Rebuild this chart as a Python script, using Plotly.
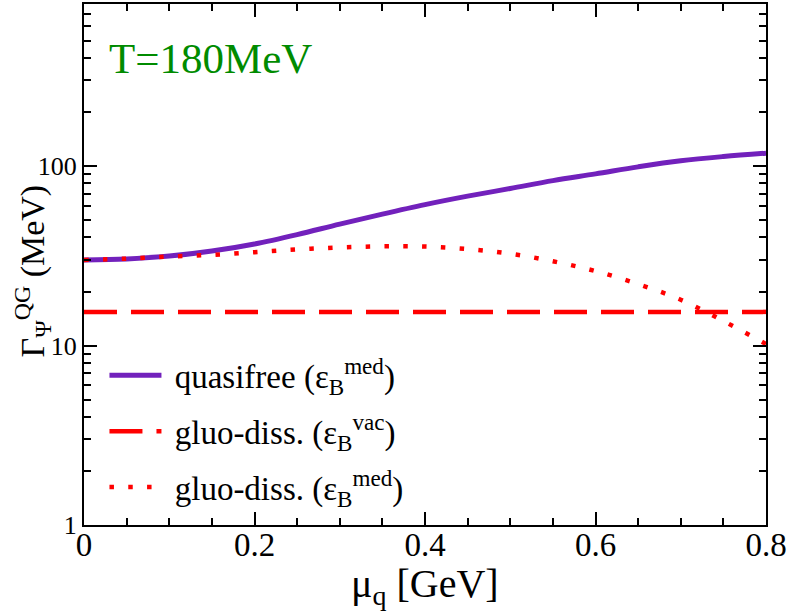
import math
import plotly.graph_objects as go

# ---- data ----
mu_q = [0.0, 0.05, 0.1, 0.15, 0.2, 0.25, 0.3, 0.35, 0.4, 0.45, 0.5, 0.55, 0.6, 0.65, 0.7, 0.75, 0.8]
gamma_quasifree_med = [30.0, 30.4, 31.5, 33.6, 36.8, 41.5, 47.5, 54.0, 61.0, 68.0, 75.0, 83.0, 90.5, 99.0, 107.0, 113.0, 118.0]
gamma_gluo_med = [30.0, 30.5, 31.3, 32.0, 33.1, 34.3, 35.2, 35.7, 35.6, 34.5, 32.5, 29.5, 26.0, 22.0, 18.0, 13.7, 10.2]
mu_q_vac = [0.0, 0.8]
gamma_gluo_vac = [15.4, 15.4]

x_ticks = [0, 0.2, 0.4, 0.6, 0.8]
x_ticktext = ["0", "0.2", "0.4", "0.6", "0.8"]
y_ticks = [1, 10, 100]
y_ticktext = ["1", "10", "100"]

names = ["\u00a0quasifree (ε<sub>B</sub><sup>med</sup>)",
         "\u00a0gluo-diss. (ε<sub>B</sub><sup>vac</sup>)",
         "\u00a0gluo-diss. (ε<sub>B</sub><sup>med</sup>)"]

INDIGO = "rgb(114,33,188)"
RED = "rgb(255,0,0)"
GREEN = "rgb(0,139,0)"
FONT = "Liberation Serif"

fig = go.Figure()
fig.add_trace(go.Scatter(x=mu_q, y=gamma_quasifree_med, mode="lines", name=names[0],
                         legendgroup="g1",
                         line=dict(color=INDIGO, width=5, shape="spline")))
fig.add_trace(go.Scatter(x=mu_q_vac, y=gamma_gluo_vac, mode="lines", name=names[1],
                         legendgroup="g2",
                         line=dict(color=RED, width=4.5, dash="33px,14px")))
fig.add_trace(go.Scatter(x=mu_q, y=gamma_gluo_med, mode="lines", name=names[2],
                         legendgroup="g3",
                         line=dict(color=RED, width=4.5, dash="4.5px,14.3px", shape="spline")))

fig.update_layout(
    width=789, height=616,
    margin=dict(l=84, r=22, t=2, b=91),
    paper_bgcolor="white", plot_bgcolor="white",
    font=dict(family=FONT, color="black"),
    showlegend=True,
    legend=dict(x=0.03, y=0.341, xanchor="left", yanchor="top",
                bgcolor="rgba(0,0,0,0)", borderwidth=0,
                font=dict(family=FONT, size=33, color="black"),
                traceorder="grouped", tracegroupgap=10, itemwidth=52),
    xaxis=dict(range=[0, 0.8], tickvals=x_ticks, ticktext=x_ticktext,
               ticks="inside", ticklen=13, tickwidth=2, tickcolor="black",
               showline=True, linewidth=2, linecolor="black", mirror="allticks",
               showgrid=False, zeroline=False, ticklabelstandoff=-11,
               tickfont=dict(family=FONT, size=33, color="black"),
               minor=dict(dtick=0.05, tick0=0, ticks="inside", ticklen=7, tickwidth=1.5,
                          tickcolor="black", showgrid=False)),
    yaxis=dict(type="log", range=[0, math.log10(800)], tickvals=y_ticks, ticktext=y_ticktext,
               ticks="inside", ticklen=13, tickwidth=2, tickcolor="black",
               showline=True, linewidth=2, linecolor="black", mirror="allticks",
               showgrid=False, zeroline=False,
               tickfont=dict(family=FONT, size=26, color="black"),
               minor=dict(dtick="D1", ticks="inside", ticklen=7, tickwidth=1.5,
                          tickcolor="black", showgrid=False)),
    annotations=[
        dict(text="T=180MeV", x=0.0337, y=0.895, xref="paper", yref="paper",
             xanchor="left", yanchor="middle", showarrow=False,
             font=dict(family=FONT, size=43, color=GREEN)),
        dict(text="μ<sub>q</sub> [GeV]", x=0.5, y=-0.117, xref="paper", yref="paper",
             xanchor="center", yanchor="middle", showarrow=False, borderpad=0,
             font=dict(family=FONT, size=40, color="black")),
        dict(text="Γ<sub>Ψ</sub><sup>QG</sup> (MeV)", x=-0.076, y=0.487, xref="paper", yref="paper",
             xanchor="center", yanchor="middle", showarrow=False, textangle=-90,
             font=dict(family=FONT, size=34, color="black")),
    ],
)

fig.write_html("out.html", post_script="document.body.style.margin='0';",
               config={"displayModeBar": False})
